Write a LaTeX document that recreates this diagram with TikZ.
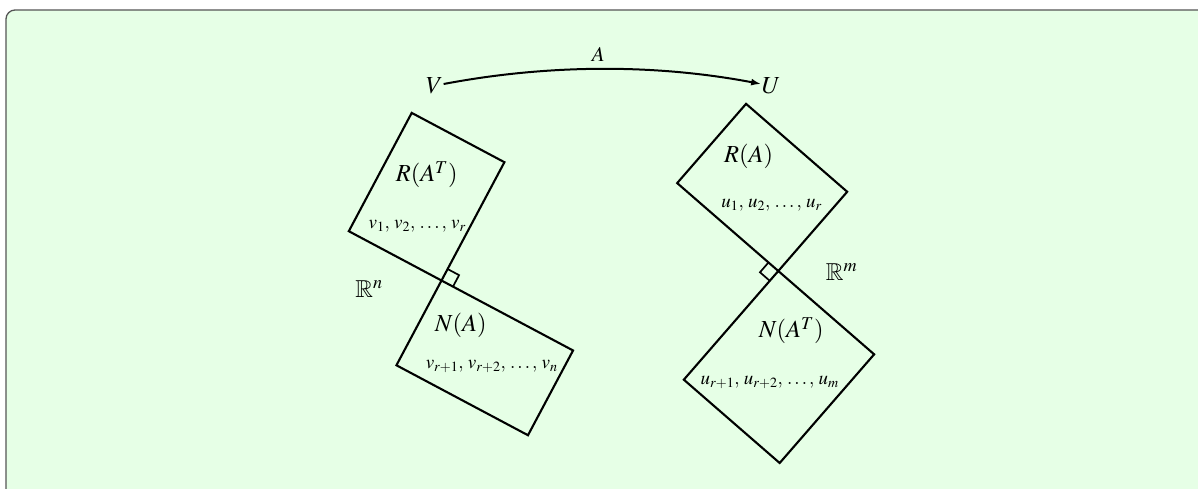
\documentclass[tikz,border=0pt]{standalone}
\usepackage{mathptmx}
\usepackage{amssymb}
\usetikzlibrary{arrows.meta}
\definecolor{bggreen}{RGB}{230,255,230}
\definecolor{bordergray}{RGB}{85,85,85}
\begin{document}
\begin{tikzpicture}[x=1pt,y=-1pt,
  subspace/.style={draw=black,line width=2.1pt,line join=miter},
  rightmark/.style={draw=black,line width=1.7pt,line join=miter},
  biglbl/.style={inner sep=0pt,font=\fontsize{24.5}{28}\selectfont},
  toplbl/.style={inner sep=0.5pt,font=\fontsize{24.5}{28}\selectfont},
  arrlbl/.style={inner sep=0pt,font=\fontsize{21}{25}\selectfont},
  vecs/.style={inner sep=0pt,font=\fontsize{19}{23}\selectfont},
  maparrow/.style={line width=2pt,-{Latex[length=10pt,width=7pt]}}]
\useasboundingbox (0,0) rectangle (1198,488);
\fill[white] (0,0) rectangle (1198,488);
\draw[fill=bggreen,draw=bordergray,line width=1.3pt,rounded corners=9pt] (6,10) rectangle (1230,520);

% V, U and the map A
\node[toplbl] (V) at (434.5,86) {$V$};
\node[toplbl] (U) at (771.2,86) {$U$};
\draw[maparrow] ([yshift=2pt]V.east) .. controls (549,64) and (656,64) .. ([yshift=2pt]U.west);
\node[arrlbl] (Alab) at (598.3,54) {$A$};

% left: row space and null space
\coordinate (O1) at (441.5,280.5);
\coordinate (Ra) at (348.80,231.20);
\coordinate (Rb) at (411.71,112.89);
\coordinate (Rc) at (504.41,162.19);
\coordinate (Nd) at (573.05,350.46);
\coordinate (Ng) at (527.98,435.22);
\coordinate (Nf) at (396.43,365.26);
\draw[subspace] (O1) -- (Ra) -- (Rb) -- (Rc) -- cycle;
\draw[subspace] (O1) -- (Nd) -- (Ng) -- (Nf) -- cycle;
\draw[rightmark] (452.98,286.60) -- (459.08,275.12) -- (447.60,269.02);

\node[biglbl] (RAT) at (426.7,174.7) {$R(A^T)$};
\node[vecs] (vlist) at (417.3,226) {$v_1,\, v_2,\, \ldots,\, v_r$};
\node[biglbl] (Rn) at (369,289) {$\mathbb{R}^n$};
\node[biglbl] (NA) at (460.7,325) {$N(A)$};
\node[vecs] (vlist2) at (491.7,366.5) {$v_{r+1},\, v_{r+2},\, \ldots,\, v_n$};

% right: column space and left null space
\coordinate (O2) at (778.3,271);
\coordinate (Sa) at (847.19,191.76);
\coordinate (Sb) at (746.06,103.84);
\coordinate (Sc) at (677.17,183.08);
\coordinate (Td) at (874.15,354.32);
\coordinate (Tg) at (779.67,463.00);
\coordinate (Tf) at (683.82,379.68);
\draw[subspace] (O2) -- (Sa) -- (Sb) -- (Sc) -- cycle;
\draw[subspace] (O2) -- (Td) -- (Tg) -- (Tf) -- cycle;
\draw[rightmark] (768.49,262.47) -- (759.96,272.28) -- (769.77,280.81);

\node[biglbl] (RA) at (748.7,156.7) {$R(A)$};
\node[vecs] (ulist) at (771.7,205) {$u_1,\, u_2,\, \ldots,\, u_r$};
\node[biglbl] (Rm) at (841.5,271.7) {$\mathbb{R}^m$};
\node[biglbl] (NAT) at (791.2,330.7) {$N(A^T)$};
\node[vecs] (ulist2) at (769.7,382.3) {$u_{r+1},\, u_{r+2},\, \ldots,\, u_m$};
\end{tikzpicture}
\end{document}
